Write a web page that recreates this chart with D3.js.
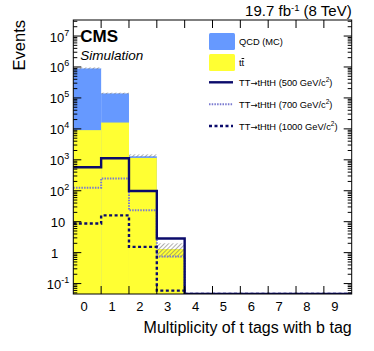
<!DOCTYPE html>
<html>
<head>
<meta charset="utf-8">
<script src="https://cdn.jsdelivr.net/npm/d3@7"></script>
<style>
  body { margin: 0; background: #fff; }
  svg { font-family: "Liberation Sans", Arial, sans-serif; }
</style>
</head>
<body>
<div id="chart"></div>
<script>
// bins of the t tag multiplicity
const bins = [0, 1, 2, 3, 4, 5, 6, 7, 8, 9];
// stacked backgrounds (tt at the bottom, QCD on top)
const ttbar = [9.1e3, 1.6e4, 1.15e3, 1.3, 0, 0, 0, 0, 0, 0];
const qcd = [8.9e5, 1.24e5, 150, 0, 0, 0, 0, 0, 0, 0];
// uncertainty band on the stack
const bandLo = [8.4e5, 1.32e5, 1.22e3, 0.7, 0, 0, 0, 0, 0, 0];
const bandHi = [9.7e5, 1.48e5, 1.5e3, 2.0, 0, 0, 0, 0, 0, 0];
// signals
const sig500 = [575, 1120, 98, 2.85, 0, 0, 0, 0, 0, 0];
const sig700 = [125, 250, 23.6, 0.75, 0, 0, 0, 0, 0, 0];
const sig1000 = [8.7, 16, 1.53, 0.059, 0, 0, 0, 0, 0, 0];
const yTicks = [0.1, 1, 10, 100, 1e3, 1e4, 1e5, 1e6, 1e7];

const width = 374, height = 351;
const margin = { left: 73.3, top: 20, right: 22.3, bottom: 57 };
const w = width - margin.left - margin.right;
const h = height - margin.top - margin.bottom;

const svg = d3.select("#chart").append("svg")
    .attr("width", width)
    .attr("height", height);

const defs = svg.append("defs");
defs.append("pattern")
    .attr("id", "hatch")
    .attr("patternUnits", "userSpaceOnUse")
    .attr("width", 3).attr("height", 3)
    .attr("patternTransform", "rotate(45)")
    .append("line")
    .attr("x1", 0).attr("y1", 0).attr("x2", 0).attr("y2", 3)
    .attr("stroke", "#777").attr("stroke-width", 1.2);
defs.append("clipPath").attr("id", "clip")
    .append("rect").attr("width", w).attr("height", h);

const g = svg.append("g").attr("transform", `translate(${margin.left},${margin.top})`);

// Scales
const x = d3.scaleLinear().domain([-0.5, 9.5]).range([0, w]);
const yMin = 0.046;
const y = d3.scaleLog().domain([yMin, 3.3e7]).range([h, 0]).clamp(true);
const yv = v => y(Math.max(v, yMin));

const plot = g.append("g").attr("clip-path", "url(#clip)");

// stacked histogram
const stack = bins.map((b, i) => ({ b, tt: ttbar[i], tot: ttbar[i] + qcd[i] }));
plot.selectAll(".qcd").data(stack.filter(d => d.tot > 0)).enter().append("rect")
    .attr("x", d => x(d.b - 0.5))
    .attr("width", x(1) - x(0))
    .attr("y", d => yv(d.tot))
    .attr("height", d => h - yv(d.tot))
    .attr("fill", "#6699ff");
plot.selectAll(".tt").data(stack.filter(d => d.tt > 0)).enter().append("rect")
    .attr("x", d => x(d.b - 0.5))
    .attr("width", x(1) - x(0))
    .attr("y", d => yv(d.tt))
    .attr("height", d => h - yv(d.tt))
    .attr("fill", "#ffff33");

// uncertainty band
plot.selectAll(".band").data(bins.filter((b, i) => bandHi[i] > 0)).enter().append("rect")
    .attr("x", b => x(b - 0.5))
    .attr("width", x(1) - x(0))
    .attr("y", b => yv(bandHi[b]))
    .attr("height", b => yv(bandLo[b]) - yv(bandHi[b]))
    .attr("fill", "url(#hatch)");

// signal step lines
function stepPoints(vals) {
    const pts = vals.map((v, i) => [bins[i] - 0.5, v]);
    pts.push([9.5, vals[vals.length - 1]]);
    return pts;
}
const step = d3.line().x(d => x(d[0])).y(d => yv(d[1])).curve(d3.curveStepAfter);
const signals = [
    { vals: sig700, color: "#7a7ad0", width: 2, dash: "1.5,1.2" },
    { vals: sig1000, color: "#0b0b6b", width: 2.4, dash: "3,2.5" },
    { vals: sig500, color: "#0b0b6b", width: 2.4, dash: null }
];
plot.selectAll(".sig").data(signals).enter().append("path")
    .attr("d", d => step(stepPoints(d.vals)))
    .attr("fill", "none")
    .attr("stroke", d => d.color)
    .attr("stroke-width", d => d.width)
    .attr("stroke-dasharray", d => d.dash);

// frame
g.append("rect").attr("width", w).attr("height", h)
    .attr("fill", "none").attr("stroke", "#000").attr("stroke-width", 1);

// x ticks at bin edges, labels at centres
const xEdges = d3.range(0.5, 9.5, 1);
[0, h].forEach((y0, k) => {
    g.selectAll(null).data(xEdges).enter().append("line")
        .attr("x1", d => x(d)).attr("x2", d => x(d))
        .attr("y1", y0).attr("y2", k ? y0 - 8 : y0 + 8)
        .attr("stroke", "#000");
});
g.selectAll(".xl").data(bins).enter().append("text")
    .attr("x", d => x(d) - 3).attr("y", h + 17)
    .attr("text-anchor", "middle")
    .attr("font-size", 13)
    .text(d => d);

// y ticks: major decades and minor 2..9
const minor = [];
for (let e = -2; e <= 7; e++) for (let m = 2; m <= 9; m++) {
    const v = m * Math.pow(10, e);
    if (v >= yMin && v <= 3.3e7) minor.push(v);
}
[0, w].forEach((x0, k) => {
    const dir = k ? -1 : 1;
    g.selectAll(null).data(yTicks).enter().append("line")
        .attr("x1", x0).attr("x2", x0 + dir * 8)
        .attr("y1", d => y(d)).attr("y2", d => y(d))
        .attr("stroke", "#000");
    g.selectAll(null).data(minor).enter().append("line")
        .attr("x1", x0).attr("x2", x0 + dir * 4)
        .attr("y1", d => y(d)).attr("y2", d => y(d))
        .attr("stroke", "#000");
});
const yl = g.selectAll(".yl").data(yTicks).enter().append("text")
    .attr("y", d => y(d) + 5.5)
    .attr("font-size", 13)
    .attr("text-anchor", "end");
yl.each(function (d) {
    const t = d3.select(this);
    const e = Math.round(Math.log10(d));
    if (e === 0) { t.attr("x", -15).text("1"); return; }
    if (e === 1) { t.attr("x", -8).text("10"); return; }
    t.attr("x", -4);
    t.append("tspan").text("10");
    t.append("tspan").attr("dy", -6).attr("font-size", 9).text(e);
});

// axis titles
svg.append("text")
    .attr("transform", `translate(25,${margin.top}) rotate(-90)`)
    .attr("text-anchor", "end")
    .attr("font-size", 16.5)
    .text("Events");
svg.append("text")
    .attr("x", margin.left + w).attr("y", 333)
    .attr("text-anchor", "end")
    .attr("font-size", 16)
    .text("Multiplicity of t tags with b tag");

// header
const hdr = svg.append("text")
    .attr("x", margin.left + w).attr("y", 16)
    .attr("text-anchor", "end")
    .attr("font-size", 15);
hdr.append("tspan").text("19.7 fb");
hdr.append("tspan").attr("dy", -5.5).attr("font-size", 9.5).text("-1");
hdr.append("tspan").attr("dy", 5.5).text(" (8 TeV)");

g.append("text").attr("x", 7).attr("y", 22)
    .attr("font-size", 17).attr("font-weight", "bold").text("CMS");
g.append("text").attr("x", 7).attr("y", 39.5)
    .attr("font-size", 13.5).attr("font-style", "italic").text("Simulation");

// legend
const legX = 209 - margin.left;
const leg = g.append("g").attr("font-size", 9.3);
const boxes = [
    { label: "QCD (MC)", color: "#6699ff", y: 13 },
    { label: "tt", color: "#ffff33", y: 34 }
];
leg.selectAll(".box").data(boxes).enter().append("rect")
    .attr("x", legX).attr("y", d => d.y)
    .attr("width", 26).attr("height", 17).attr("rx", 1.5)
    .attr("fill", d => d.color);
leg.append("text").attr("x", legX + 30).attr("y", 13 + 12).text("QCD (MC)");
const ttl = leg.append("text").attr("x", legX + 30).attr("y", 34 + 12);
ttl.append("tspan").text("t");
ttl.append("tspan").attr("text-decoration", "overline").text("t");

const lineLeg = [
    { mass: "500", s: signals[2], y: 62.3 },
    { mass: "700", s: signals[0], y: 84.3 },
    { mass: "1000", s: signals[1], y: 106 }
];
lineLeg.forEach(d => {
    leg.append("line")
        .attr("x1", legX).attr("x2", legX + 24)
        .attr("y1", d.y).attr("y2", d.y)
        .attr("stroke", d.s.color)
        .attr("stroke-width", d.s.width)
        .attr("stroke-dasharray", d.s.dash);
    const t = leg.append("text").attr("x", legX + 30).attr("y", d.y + 3.5);
    t.append("tspan").text("TT");
    t.append("tspan").attr("font-family", "DejaVu Sans").attr("font-size", 8.5).text("\u2192");
    t.append("tspan").text(`tHtH (${d.mass} GeV/c`);
    t.append("tspan").attr("dy", -4).attr("font-size", 6.5).text("2");
    t.append("tspan").attr("dy", 4).text(")");
});
</script>
</body>
</html>
